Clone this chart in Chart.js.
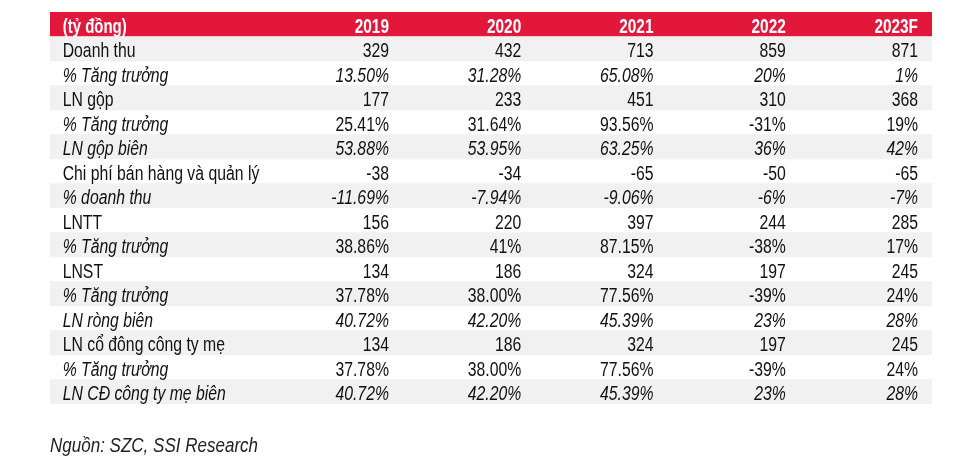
<!DOCTYPE html>
<html>
<head>
<meta charset="utf-8">
<script src="https://cdn.jsdelivr.net/npm/chart.js@4.4.1/dist/chart.umd.min.js"></script>
<style>
  html, body { margin: 0; padding: 0; background: #fff; }
  #wrap { width: 971px; height: 465px; }
</style>
</head>
<body>
<div id="wrap"><canvas id="tbl" width="971" height="465"></canvas></div>
<script>
// Column headers
const years = ['2019', '2020', '2021', '2022', '2023F'];
const unitLabel = '(tỷ đồng)';
const sourceNote = 'Nguồn: SZC, SSI Research';

// Row labels
const rowLabels = [
  'Doanh thu', '% Tăng trưởng', 'LN gộp', '% Tăng trưởng', 'LN gộp biên',
  'Chi phí bán hàng và quản lý', '% doanh thu', 'LNTT', '% Tăng trưởng',
  'LNST', '% Tăng trưởng', 'LN ròng biên', 'LN cổ đông công ty mẹ',
  '% Tăng trưởng', 'LN CĐ công ty mẹ biên'
];

// Row values (2019 .. 2023F)
const doanhThu       = ['329', '432', '713', '859', '871'];
const tangTruongDT   = ['13.50%', '31.28%', '65.08%', '20%', '1%'];
const lnGop          = ['177', '233', '451', '310', '368'];
const tangTruongLNG  = ['25.41%', '31.64%', '93.56%', '-31%', '19%'];
const lnGopBien      = ['53.88%', '53.95%', '63.25%', '36%', '42%'];
const chiPhiBHQL     = ['-38', '-34', '-65', '-50', '-65'];
const pctDoanhThu    = ['-11.69%', '-7.94%', '-9.06%', '-6%', '-7%'];
const lntt           = ['156', '220', '397', '244', '285'];
const tangTruongLNTT = ['38.86%', '41%', '87.15%', '-38%', '17%'];
const lnst           = ['134', '186', '324', '197', '245'];
const tangTruongLNST = ['37.78%', '38.00%', '77.56%', '-39%', '24%'];
const lnRongBien     = ['40.72%', '42.20%', '45.39%', '23%', '28%'];
const lnCoDong       = ['134', '186', '324', '197', '245'];
const tangTruongLNCD = ['37.78%', '38.00%', '77.56%', '-39%', '24%'];
const lnCDBien       = ['40.72%', '42.20%', '45.39%', '23%', '28%'];

const rowValues = [
  doanhThu, tangTruongDT, lnGop, tangTruongLNG, lnGopBien, chiPhiBHQL,
  pctDoanhThu, lntt, tangTruongLNTT, lnst, tangTruongLNST, lnRongBien,
  lnCoDong, tangTruongLNCD, lnCDBien
];

// Styling per row (index into rowLabels)
const italicLabelRows = [1, 3, 4, 6, 8, 10, 11, 13, 14];
const italicValueRows = [1, 4, 6, 11, 14];

const RED = '#e2173a';
const GRAY = '#f1f1f1';
const FONT = '"Liberation Sans", Arial, sans-serif';
const FONT_SIZE = 20.5;

// x axis: one unit per value column, label column on the left
const X_MAX = 6.669;
const LABEL_X = 0.096;
const COL_X = years.map((_, i) => 2.563 + i * 1.0);

const yLabels = [unitLabel, ...rowLabels];
const bandColors = yLabels.map((_, i) => i === 0 ? RED : (i % 2 === 1 ? GRAY : 'rgba(255,255,255,0)'));

// condensed text: regular sans squeezed horizontally
function drawText(ctx, text, px, py, align, opts) {
  const { italic = false, bold = false, squeeze = 0.77, size = FONT_SIZE } = opts || {};
  ctx.save();
  ctx.font = `${italic ? 'italic ' : ''}${bold ? 'bold ' : ''}${size}px ${FONT}`;
  ctx.textAlign = align;
  ctx.translate(px, py);
  ctx.scale(squeeze, 1);
  ctx.fillText(text, 0, 0);
  ctx.restore();
}

const tableText = {
  id: 'tableText',
  afterDatasetsDraw(chart) {
    const { ctx, scales: { x, y }, chartArea } = chart;
    ctx.save();
    ctx.textBaseline = 'alphabetic';
    const off = 8.6;

    // header
    const hy = y.getPixelForValue(0) + off;
    ctx.fillStyle = '#ffffff';
    drawText(ctx, unitLabel, x.getPixelForValue(LABEL_X), hy, 'left', { bold: true, squeeze: 0.73 });
    years.forEach((yr, c) => drawText(ctx, yr, x.getPixelForValue(COL_X[c]), hy, 'right', { bold: true, squeeze: 0.75 }));

    // body
    ctx.fillStyle = '#111111';
    rowLabels.forEach((label, r) => {
      const py = y.getPixelForValue(r + 1) + off;
      drawText(ctx, label, x.getPixelForValue(LABEL_X), py, 'left', { italic: italicLabelRows.includes(r) });
      rowValues[r].forEach((v, c) =>
        drawText(ctx, v, x.getPixelForValue(COL_X[c]), py, 'right', { italic: italicValueRows.includes(r) }));
    });

    // source
    ctx.fillStyle = '#222222';
    drawText(ctx, sourceNote, chartArea.left, chartArea.bottom + 47.5, 'left', { italic: true, squeeze: 0.83 });
    ctx.restore();
  }
};

new Chart(document.getElementById('tbl'), {
  type: 'bar',
  data: {
    labels: yLabels,
    datasets: [{
      data: yLabels.map(() => [0, X_MAX]),
      backgroundColor: bandColors,
      borderWidth: 0,
      barPercentage: 1,
      categoryPercentage: 1
    }]
  },
  options: {
    indexAxis: 'y',
    responsive: false,
    animation: false,
    layout: { padding: { left: 50, top: 12, right: 39, bottom: 61 } },
    plugins: { legend: { display: false }, tooltip: { enabled: false } },
    scales: {
      x: { type: 'linear', min: 0, max: X_MAX, display: false },
      y: { type: 'category', display: false }
    }
  },
  plugins: [tableText]
});
</script>
</body>
</html>
